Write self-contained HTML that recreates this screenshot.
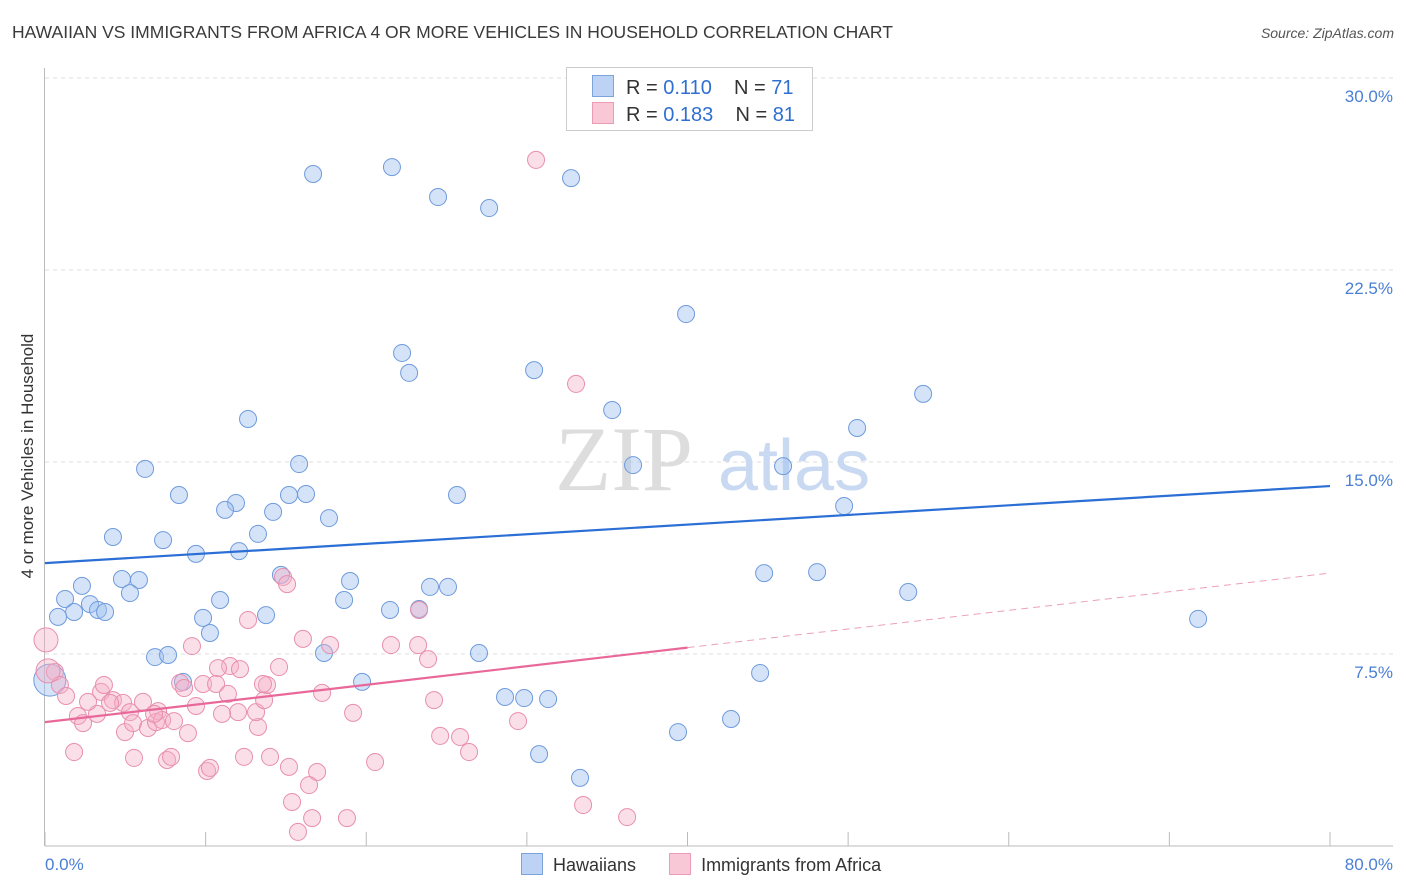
<!DOCTYPE html>
<html><head><meta charset="utf-8"><style>
body{margin:0;background:#fff;font-family:"Liberation Sans",sans-serif;}
#wrap{position:relative;width:1406px;height:892px;overflow:hidden;}
.t{position:absolute;white-space:nowrap;}
</style></head><body>
<div id="wrap">
<div class="t" style="left:12px;top:22px;font-size:17.5px;color:#3a3a3a;">HAWAIIAN VS IMMIGRANTS FROM AFRICA 4 OR MORE VEHICLES IN HOUSEHOLD CORRELATION CHART</div>
<div class="t" style="right:12px;top:25px;font-size:14px;color:#555;font-style:italic;">Source: ZipAtlas.com</div>
<svg id="chart" width="1406" height="892" style="position:absolute;left:0;top:0"></svg>
</div>
<script>
const xTicks=[0,10,20,30,40,50,60,70,80];
const yTicks=[7.5,15,22.5,30];
const yTickLabels=["7.5%","15.0%","22.5%","30.0%"];
const xEdgeLabels=["0.0%","80.0%"];
const blueX=[16.69,21.6,24.47,27.65,32.75,39.91,22.23,22.67,30.45,35.31,54.67,50.56,12.64,6.23,15.82,36.61,45.95,8.34,11.89,11.21,15.19,16.25,25.65,14.2,17.68,49.75,4.23,7.35,13.26,9.40,12.08,4.79,5.85,2.30,14.69,18.99,44.77,48.07,23.97,25.09,5.29,1.25,2.80,3.30,3.74,1.81,0.81,10.90,18.62,21.48,23.29,13.76,9.84,10.27,53.74,71.79,6.85,7.66,17.37,27.02,8.59,19.74,44.52,28.64,29.83,31.32,42.71,39.41,30.76,33.31,0.3];
const blueY=[26.25,26.52,25.35,24.92,26.09,20.78,19.26,18.48,18.59,17.03,17.66,16.33,16.68,14.73,14.92,14.88,14.84,13.71,13.40,13.13,13.71,13.75,13.71,13.05,12.81,13.28,12.07,11.95,12.19,11.41,11.52,10.43,10.39,10.16,10.59,10.35,10.66,10.70,10.12,10.12,9.88,9.65,9.45,9.22,9.14,9.14,8.95,9.61,9.61,9.22,9.26,9.02,8.91,8.32,9.92,8.87,7.38,7.46,7.54,7.54,6.41,6.41,6.76,5.82,5.78,5.74,4.96,4.45,3.59,2.66,6.48];
const pinkX=[30.57,33.06,14.82,15.07,23.29,12.64,16.06,17.75,21.54,23.23,9.15,23.85,11.52,10.77,12.14,14.57,0.62,0.93,1.31,2.05,3.24,2.37,3.49,3.67,4.23,4.86,5.29,6.10,4.98,5.48,6.41,7.04,6.91,7.29,8.03,8.90,9.40,8.41,8.66,9.84,10.65,11.39,12.02,11.02,13.26,13.14,13.64,13.82,17.25,19.18,24.22,29.45,24.60,25.84,26.40,1.81,5.54,7.60,7.85,12.39,14.01,10.09,10.27,15.19,16.94,16.44,20.55,15.38,15.75,16.63,18.80,33.50,36.24,0.06,0.19,2.68,4.05,6.79,13.57];
const pinkY=[26.80,18.05,10.51,10.23,9.22,8.83,8.09,7.85,7.85,7.85,7.81,7.30,7.03,6.95,6.91,6.99,6.80,6.29,5.86,5.08,5.16,4.80,6.02,6.29,5.70,5.59,5.23,5.63,4.45,4.80,4.61,5.27,4.84,4.92,4.88,4.41,5.47,6.37,6.17,6.33,6.33,5.94,5.23,5.16,4.65,5.23,5.70,6.29,5.98,5.20,5.70,4.88,4.30,4.26,3.67,3.67,3.44,3.36,3.48,3.48,3.48,2.93,3.05,3.09,2.89,2.38,3.28,1.72,0.55,1.09,1.09,1.60,1.13,8.05,6.84,5.63,5.59,5.16,6.33];
const blueTrend=[11.05,14.06];
const pinkTrend=[4.84,10.66];
const NS="http://www.w3.org/2000/svg";
const svg=document.getElementById('chart');
const X=v=>45+v*16.0625;
const Y=v=>846-v*25.6;
function mk(tag,attrs){const e=document.createElementNS(NS,tag);for(const k in attrs)e.setAttribute(k,attrs[k]);svg.appendChild(e);return e;}
// gridlines
yTicks.forEach((t,i)=>{
 const g=mk('line',{x1:45,x2:1393,y1:Y(t),y2:Y(t),stroke:'#ddd','stroke-dasharray':'4,4'});
 
 
 const l=mk('text',{x:1393,y:Y(t)+24,'text-anchor':'end','font-size':17,fill:'#4a7fd4','font-family':'Liberation Sans, sans-serif'});
 l.textContent=yTickLabels[i];
 
 
});
const ax=mk('line',{x1:45,x2:1393,y1:846,y2:846,stroke:'#bbb'});


const ay=mk('line',{x1:44.5,x2:44.5,y1:68,y2:846,stroke:'#bbb'});


xTicks.forEach(t=>{
 const k=mk('line',{x1:X(t),x2:X(t),y1:832,y2:846,stroke:'#bbb'});
 
 
});
const xl0=mk('text',{x:45,y:870,'font-size':17,fill:'#4a7fd4','font-family':'Liberation Sans, sans-serif'});
xl0.textContent=xEdgeLabels[0];


const xl1=mk('text',{x:1393,y:870,'text-anchor':'end','font-size':17,fill:'#4a7fd4','font-family':'Liberation Sans, sans-serif'});
xl1.textContent=xEdgeLabels[1];


const yt=mk('text',{x:0,y:0,transform:'translate(33,456) rotate(-90)','text-anchor':'middle','font-size':17,fill:'#333','font-family':'Liberation Sans, sans-serif'});
yt.textContent='4 or more Vehicles in Household';


// watermark
const wm=mk('text',{x:555,y:490,'font-size':92,fill:'#ddd','font-family':'Liberation Serif, serif'});
wm.textContent='ZIP';


const wm2=mk('text',{x:718,y:490,'font-size':72,fill:'#c9d9f2','font-family':'Liberation Sans, sans-serif'});
wm2.textContent='atlas';


// points
blueX.forEach((x,i)=>{
 const big=i===blueX.length-1;
 const c=mk('circle',{cx:X(x),cy:Y(blueY[i]),r:big?16:8.5,fill:'rgba(160,192,240,0.45)',stroke:'#6f9bdc','stroke-width':1});
 
 
});
pinkX.forEach((x,i)=>{
 const big=i>=pinkX.length-6&&i<pinkX.length-4;
 const c=mk('circle',{cx:X(x),cy:Y(pinkY[i]),r:big?12:8.5,fill:'rgba(246,176,198,0.4)',stroke:'#e88fae','stroke-width':1});
 
 
});
// trends
const bl=mk('line',{x1:X(0),y1:Y(blueTrend[0]),x2:X(80),y2:Y(blueTrend[1]),stroke:'#2b6fd6','stroke-width':2.2});


const pmid=pinkTrend[0]+(pinkTrend[1]-pinkTrend[0])*0.5;
const pl=mk('line',{x1:X(0),y1:Y(pinkTrend[0]),x2:X(40),y2:Y(pmid),stroke:'#e8689a','stroke-width':2.2});


const pd=mk('line',{x1:X(40),y1:Y(pmid),x2:X(80),y2:Y(pinkTrend[1]),stroke:'#eba0bb','stroke-width':1,'stroke-dasharray':'7,5'});


</script>
<div class="t" style="left:566px;top:67px;width:245px;height:62px;border:1px solid #ccc;background:#fff;font-size:20px;color:#333;">
 <div style="position:absolute;left:25px;top:7px;"><span style="display:inline-block;width:20px;height:20px;background:#bcd3f5;border:1px solid #7da3dd;vertical-align:-3px;margin-right:12px"></span>R = <span style="color:#2f6fd2">0.110</span>&nbsp;&nbsp;&nbsp; N = <span style="color:#2f6fd2">71</span></div>
 <div style="position:absolute;left:25px;top:34px;"><span style="display:inline-block;width:20px;height:20px;background:#f9c8d7;border:1px solid #eb9bb5;vertical-align:-3px;margin-right:12px"></span>R = <span style="color:#2f6fd2">0.183</span>&nbsp;&nbsp;&nbsp; N = <span style="color:#2f6fd2">81</span></div>
</div>
<div class="t" style="left:521px;top:853px;font-size:18px;color:#333;">
 <span><span style="display:inline-block;width:20px;height:20px;background:#bcd3f5;border:1px solid #7da3dd;vertical-align:-4px;margin-right:10px"></span>Hawaiians</span>
 <span style="margin-left:28px"><span style="display:inline-block;width:20px;height:20px;background:#f9c8d7;border:1px solid #eb9bb5;vertical-align:-4px;margin-right:10px"></span>Immigrants from Africa</span>
</div>
</body></html>
